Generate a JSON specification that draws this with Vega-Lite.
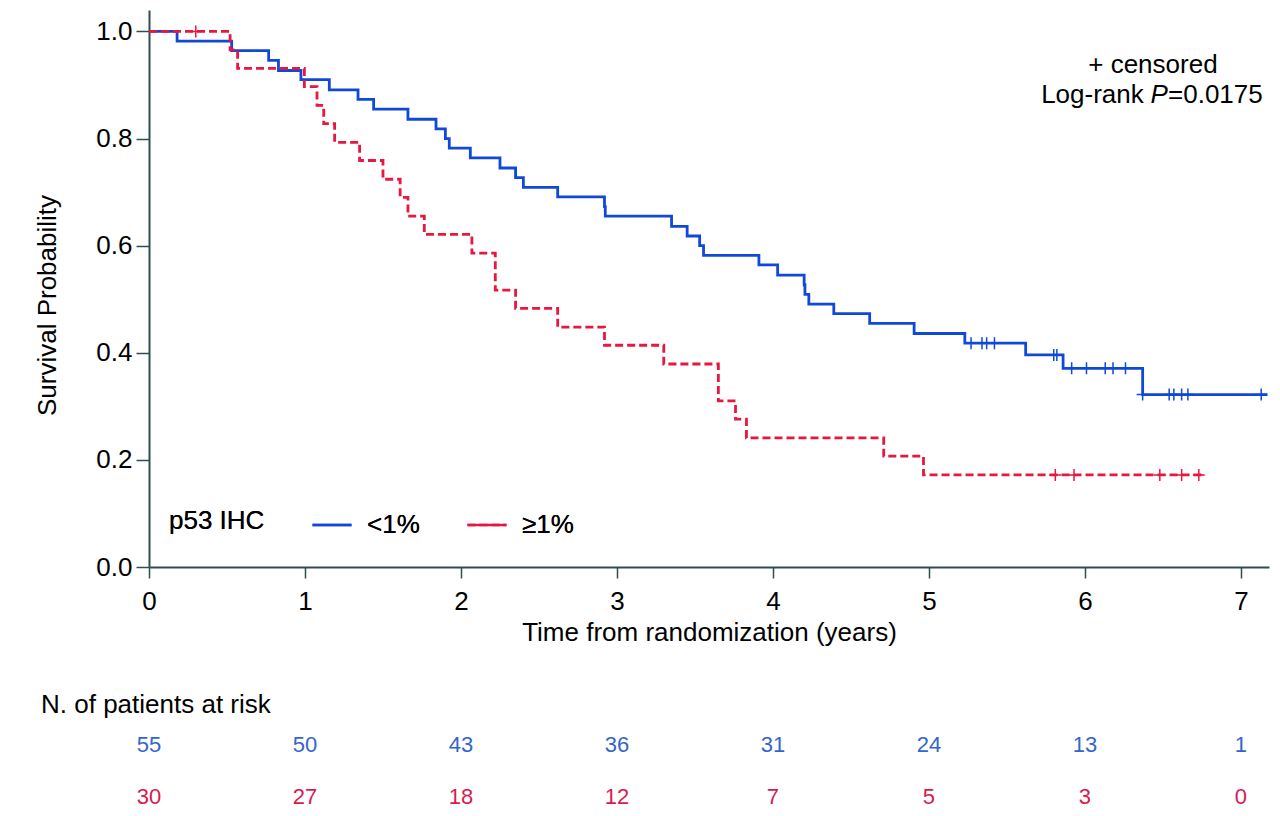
{
  "$schema": "https://vega.github.io/schema/vega-lite/v6.json",
  "padding": {"left": 34, "top": 10, "right": 0, "bottom": 0},
  "background": "white",
  "config": {
    "font": "Liberation Sans",
    "view": {"stroke": null},
    "axis": {
      "grid": false,
      "domainColor": "#2f4f4f",
      "domainWidth": 2,
      "tickColor": "#2f4f4f",
      "tickWidth": 1.5,
      "labelFontSize": 26,
      "labelColor": "black",
      "titleFontSize": 26,
      "titleFontWeight": "normal",
      "titleColor": "black",
      "labelFlush": false
    },
    "legend": {"titleFontWeight": 400, "titleFontSize": 26, "labelFontSize": 26, "titleColor": "black", "labelColor": "black"}
  },
  "datasets": {
    "curves": [
      {"group": "<1%", "t": 0, "s": 1.0},
      {"group": "<1%", "t": 0.18, "s": 0.982},
      {"group": "<1%", "t": 0.53, "s": 0.964},
      {"group": "<1%", "t": 0.767, "s": 0.946},
      {"group": "<1%", "t": 0.83, "s": 0.927},
      {"group": "<1%", "t": 0.974, "s": 0.91},
      {"group": "<1%", "t": 1.156, "s": 0.891},
      {"group": "<1%", "t": 1.34, "s": 0.873},
      {"group": "<1%", "t": 1.44, "s": 0.855},
      {"group": "<1%", "t": 1.66, "s": 0.836},
      {"group": "<1%", "t": 1.84, "s": 0.818},
      {"group": "<1%", "t": 1.9, "s": 0.8},
      {"group": "<1%", "t": 1.925, "s": 0.782},
      {"group": "<1%", "t": 2.06, "s": 0.764},
      {"group": "<1%", "t": 2.25, "s": 0.745},
      {"group": "<1%", "t": 2.35, "s": 0.727},
      {"group": "<1%", "t": 2.4, "s": 0.709},
      {"group": "<1%", "t": 2.62, "s": 0.691},
      {"group": "<1%", "t": 2.92, "s": 0.673},
      {"group": "<1%", "t": 2.925, "s": 0.655},
      {"group": "<1%", "t": 3.35, "s": 0.636},
      {"group": "<1%", "t": 3.45, "s": 0.618},
      {"group": "<1%", "t": 3.53, "s": 0.6},
      {"group": "<1%", "t": 3.555, "s": 0.582},
      {"group": "<1%", "t": 3.91, "s": 0.564},
      {"group": "<1%", "t": 4.03, "s": 0.545},
      {"group": "<1%", "t": 4.2, "s": 0.527},
      {"group": "<1%", "t": 4.205, "s": 0.509},
      {"group": "<1%", "t": 4.23, "s": 0.491},
      {"group": "<1%", "t": 4.39, "s": 0.473},
      {"group": "<1%", "t": 4.62, "s": 0.455},
      {"group": "<1%", "t": 4.905, "s": 0.436},
      {"group": "<1%", "t": 5.23, "s": 0.418},
      {"group": "<1%", "t": 5.62, "s": 0.396},
      {"group": "<1%", "t": 5.86, "s": 0.371},
      {"group": "<1%", "t": 6.37, "s": 0.322},
      {"group": "<1%", "t": 7.17, "s": 0.322},
      {"group": "≥1%", "t": 0, "s": 1.0},
      {"group": "≥1%", "t": 0.52, "s": 0.9655},
      {"group": "≥1%", "t": 0.568, "s": 0.931},
      {"group": "≥1%", "t": 0.996, "s": 0.897},
      {"group": "≥1%", "t": 1.077, "s": 0.862},
      {"group": "≥1%", "t": 1.12, "s": 0.828},
      {"group": "≥1%", "t": 1.19, "s": 0.793},
      {"group": "≥1%", "t": 1.35, "s": 0.759},
      {"group": "≥1%", "t": 1.5, "s": 0.724},
      {"group": "≥1%", "t": 1.61, "s": 0.69},
      {"group": "≥1%", "t": 1.66, "s": 0.655},
      {"group": "≥1%", "t": 1.765, "s": 0.621},
      {"group": "≥1%", "t": 2.07, "s": 0.586},
      {"group": "≥1%", "t": 2.22, "s": 0.517},
      {"group": "≥1%", "t": 2.35, "s": 0.483},
      {"group": "≥1%", "t": 2.62, "s": 0.448},
      {"group": "≥1%", "t": 2.92, "s": 0.414},
      {"group": "≥1%", "t": 3.3, "s": 0.379},
      {"group": "≥1%", "t": 3.65, "s": 0.31},
      {"group": "≥1%", "t": 3.76, "s": 0.276},
      {"group": "≥1%", "t": 3.83, "s": 0.241},
      {"group": "≥1%", "t": 4.71, "s": 0.207},
      {"group": "≥1%", "t": 4.965, "s": 0.172},
      {"group": "≥1%", "t": 6.75, "s": 0.172}
    ],
    "censors": [
      {"group": "<1%", "t": 5.27, "s": 0.418},
      {"group": "<1%", "t": 5.34, "s": 0.418},
      {"group": "<1%", "t": 5.37, "s": 0.418},
      {"group": "<1%", "t": 5.42, "s": 0.418},
      {"group": "<1%", "t": 5.8, "s": 0.396},
      {"group": "<1%", "t": 5.82, "s": 0.396},
      {"group": "<1%", "t": 5.915, "s": 0.371},
      {"group": "<1%", "t": 6.01, "s": 0.371},
      {"group": "<1%", "t": 6.13, "s": 0.371},
      {"group": "<1%", "t": 6.18, "s": 0.371},
      {"group": "<1%", "t": 6.26, "s": 0.371},
      {"group": "<1%", "t": 6.37, "s": 0.322},
      {"group": "<1%", "t": 6.54, "s": 0.322},
      {"group": "<1%", "t": 6.57, "s": 0.322},
      {"group": "<1%", "t": 6.62, "s": 0.322},
      {"group": "<1%", "t": 6.66, "s": 0.322},
      {"group": "<1%", "t": 7.13, "s": 0.322},
      {"group": "≥1%", "t": 0.3, "s": 1.0},
      {"group": "≥1%", "t": 5.81, "s": 0.172},
      {"group": "≥1%", "t": 5.93, "s": 0.172},
      {"group": "≥1%", "t": 6.48, "s": 0.172},
      {"group": "≥1%", "t": 6.62, "s": 0.172},
      {"group": "≥1%", "t": 6.73, "s": 0.172}
    ],
    "atrisk": [
      {"group": "<1%", "year": 0, "n": 55},
      {"group": "<1%", "year": 1, "n": 50},
      {"group": "<1%", "year": 2, "n": 43},
      {"group": "<1%", "year": 3, "n": 36},
      {"group": "<1%", "year": 4, "n": 31},
      {"group": "<1%", "year": 5, "n": 24},
      {"group": "<1%", "year": 6, "n": 13},
      {"group": "<1%", "year": 7, "n": 1},
      {"group": "≥1%", "year": 0, "n": 30},
      {"group": "≥1%", "year": 1, "n": 27},
      {"group": "≥1%", "year": 2, "n": 18},
      {"group": "≥1%", "year": 3, "n": 12},
      {"group": "≥1%", "year": 4, "n": 7},
      {"group": "≥1%", "year": 5, "n": 5},
      {"group": "≥1%", "year": 6, "n": 3},
      {"group": "≥1%", "year": 7, "n": 0}
    ]
  },
  "spacing": 178,
  "bounds": "flush",
  "resolve": {"scale": {"color": "independent"}, "legend": {"color": "independent"}},
  "vconcat": [
    {
      "width": 1120,
      "height": 557,
      "layer": [
        {
          "data": {"name": "curves"},
          "mark": {"type": "line", "interpolate": "step-after", "strokeWidth": 2.8},
          "encoding": {
            "x": {
              "field": "t", "type": "quantitative",
              "scale": {"domain": [0, 7.18], "nice": false, "zero": false},
              "axis": {"values": [0, 1, 2, 3, 4, 5, 6, 7], "format": "d", "title": "Time from randomization (years)", "tickSize": 11, "labelPadding": 10, "titlePadding": 5}
            },
            "y": {
              "field": "s", "type": "quantitative",
              "scale": {"domain": [0, 1.04], "nice": false},
              "axis": {"values": [0, 0.2, 0.4, 0.6, 0.8, 1.0], "format": ".1f", "title": "Survival Probability", "tickSize": 13, "labelPadding": 4, "titlePadding": 35, "titleY": 295}
            },
            "color": {
              "field": "group", "type": "nominal", "title": "p53 IHC",
              "scale": {"domain": ["<1%", "≥1%"], "range": ["#1048d8", "#e8173f"]},
              "legend": {"orient": "none", "legendX": 20, "legendY": 494, "direction": "horizontal", "titleOrient": "left", "titleFontSize": 26, "titleFontWeight": 400, "titleColor": "black", "labelFontSize": 26, "labelColor": "black", "symbolSize": 1521, "symbolStrokeWidth": 2.5, "labelOffset": 14, "columnPadding": 42, "titlePadding": 46, "padding": 0}
            },
            "strokeDash": {
              "field": "group", "type": "nominal", "title": "p53 IHC",
              "scale": {"domain": ["<1%", "≥1%"], "range": [[1, 0], [8, 4]]},
              "legend": {"orient": "none", "legendX": 20, "legendY": 494, "direction": "horizontal", "titleOrient": "left", "titleFontSize": 26, "titleFontWeight": 400, "titleColor": "black", "labelFontSize": 26, "labelColor": "black", "symbolSize": 1521, "symbolStrokeWidth": 2.5, "labelOffset": 14, "columnPadding": 42, "titlePadding": 46, "padding": 0}
            }
          }
        },
        {
          "data": {"name": "censors"},
          "mark": {"type": "point", "shape": "M-1,0L1,0M0,-1L0,1", "size": 144, "filled": false, "strokeWidth": 1.5, "opacity": 1},
          "encoding": {
            "x": {"field": "t", "type": "quantitative"},
            "y": {"field": "s", "type": "quantitative"},
            "stroke": {"field": "group", "type": "nominal", "scale": {"domain": ["<1%", "≥1%"], "range": ["#1048d8", "#e8173f"]}, "legend": null}
          }
        },
        {
          "data": {"values": [{"t": 6.436, "s": 0.9224, "label": "+ censored"}]},
          "mark": {"type": "text", "fontSize": 26, "align": "center", "baseline": "alphabetic", "color": "black"},
          "encoding": {"x": {"field": "t", "type": "quantitative"}, "y": {"field": "s", "type": "quantitative"}, "text": {"field": "label"}}
        },
        {
          "data": {"values": [{"t": 7.14, "s": 0.8664, "label": "=0.0175"}]},
          "mark": {"type": "text", "fontSize": 26, "align": "right", "baseline": "alphabetic", "color": "black"},
          "encoding": {"x": {"field": "t", "type": "quantitative"}, "y": {"field": "s", "type": "quantitative"}, "text": {"field": "label"}}
        },
        {
          "data": {"values": [{"t": 7.14, "s": 0.8664, "label": "P"}]},
          "mark": {"type": "text", "fontSize": 26, "fontStyle": "italic", "align": "right", "baseline": "alphabetic", "color": "black", "dx": -95},
          "encoding": {"x": {"field": "t", "type": "quantitative"}, "y": {"field": "s", "type": "quantitative"}, "text": {"field": "label"}}
        },
        {
          "data": {"values": [{"t": 7.14, "s": 0.8664, "label": "Log-rank"}]},
          "mark": {"type": "text", "fontSize": 26, "align": "right", "baseline": "alphabetic", "color": "black", "dx": -119},
          "encoding": {"x": {"field": "t", "type": "quantitative"}, "y": {"field": "s", "type": "quantitative"}, "text": {"field": "label"}}
        }
      ]
    },
    {
      "width": 1120,
      "height": 52,
      "title": {"text": "N. of patients at risk", "anchor": "start", "frame": "group", "dx": -108, "offset": 16, "fontSize": 26, "fontWeight": "normal", "color": "black"},
      "data": {"name": "atrisk"},
      "mark": {"type": "text", "fontSize": 22, "baseline": "middle", "align": "center"},
      "encoding": {
        "x": {"field": "year", "type": "quantitative", "scale": {"domain": [0, 7.18], "nice": false}, "axis": null},
        "y": {"field": "group", "type": "nominal", "scale": {"type": "point", "domain": ["<1%", "≥1%"], "padding": 0}, "axis": null},
        "text": {"field": "n", "type": "quantitative"},
        "color": {"field": "group", "type": "nominal", "scale": {"domain": ["<1%", "≥1%"], "range": ["#3366cc", "#d81b4f"]}, "legend": null}
      }
    }
  ]
}
